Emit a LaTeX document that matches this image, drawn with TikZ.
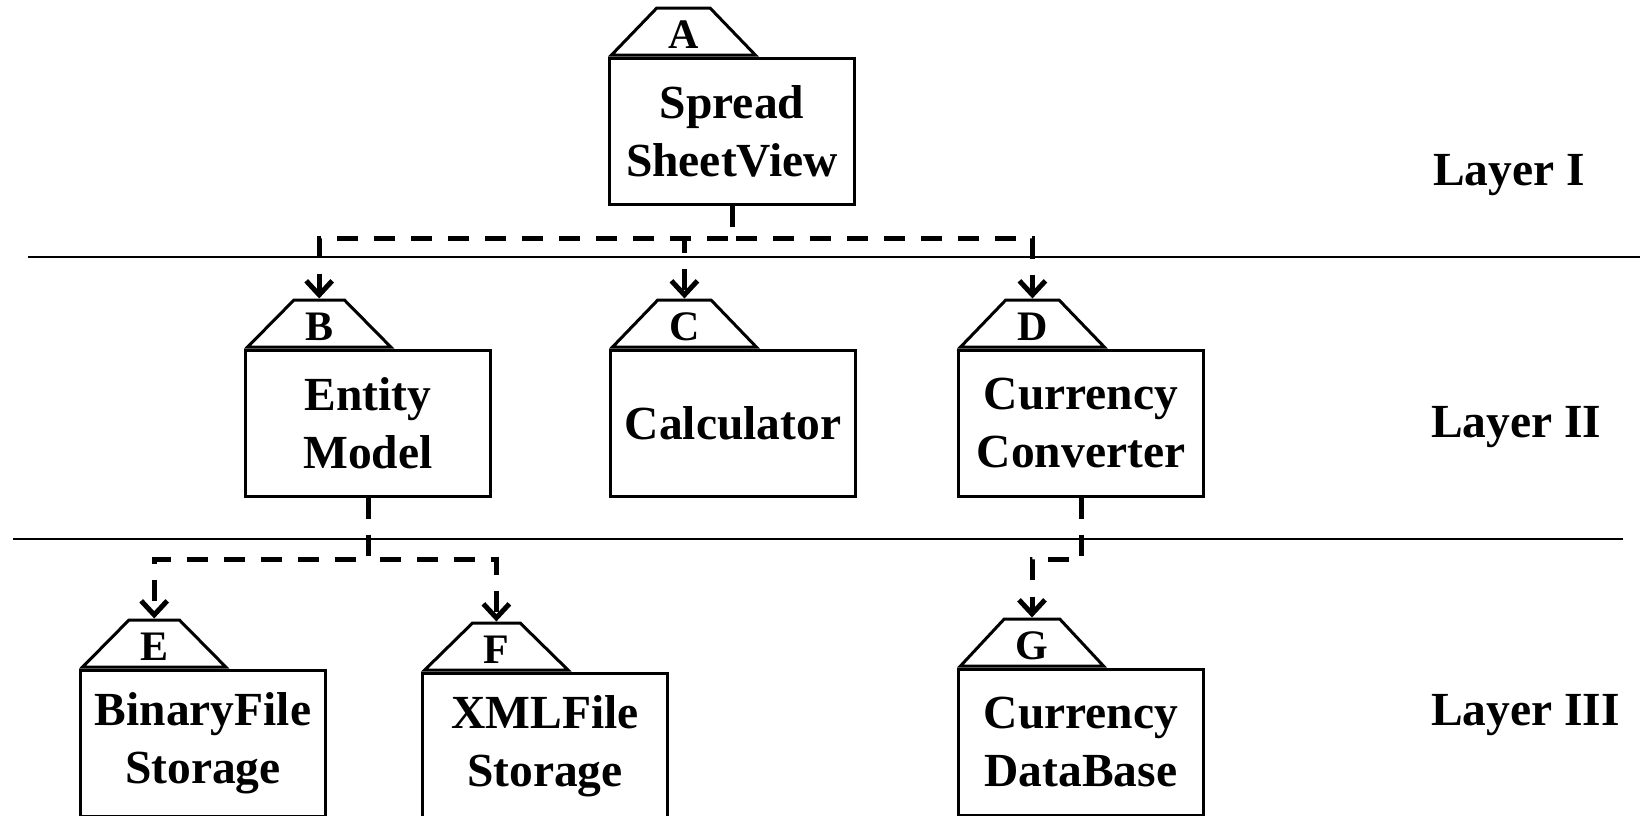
\documentclass[tikz,border=0pt]{standalone}
\usepackage{fontspec}
\setmainfont{Liberation Serif}
\usetikzlibrary{shapes.geometric,arrows.meta}

\begin{document}
\begin{tikzpicture}[x=1pt,y=-1pt,
  box/.style={draw, line width=3pt, minimum width=245pt, minimum height=146pt, inner sep=0pt, align=center, font=\fontsize{47.5}{58}\selectfont\bfseries},
  tab/.style={draw, line width=3pt, trapezium, trapezium stretches=true, trapezium left angle=52, trapezium right angle=52, minimum width=144pt, minimum height=47pt, inner sep=0pt, text height=33pt, text depth=0pt, anchor=bottom left corner, font=\fontsize{42}{42}\selectfont\bfseries},
  dep/.style={line width=5pt, dash pattern=on 21pt off 16pt, -{Straight Barb[length=14pt,width=26pt]}},
  layer/.style={line width=2.5pt},
  layername/.style={anchor=base west, inner sep=0pt, font=\fontsize{47.5}{58}\selectfont\bfseries}]
\useasboundingbox (0,0) rectangle (1640,815);
\clip (0,0) rectangle (1640,815);
\node[box] (a) at (732,131) {Spread\\SheetView};
\node[box] (b) at (368,423) {Entity\\Model};
\node[box] (c) at (733,423) {Calculator};
\node[box] (d) at (1081,423) {Currency\\Converter};
\node[box] (e) at (203,743) {BinaryFile\\Storage};
\node[box] (f) at (545,746) {XMLFile\\Storage};
\node[box] (g) at (1081,742) {Currency\\DataBase};
\foreach \x/\l in {a/A, b/B, c/C, d/D, e/E, f/F, g/G}
  \node[tab] (\x t) at (\x.north west) {\l};
\foreach \y in {b, c, d} \draw[dep] (a.south) -- ++(0,33) -| (\y t.north);
\foreach \y in {e, f} \draw[dep] (b.south) -- ++(0,62) -| (\y t.north);
\draw[dep] (d.south) -- ++(0,62) -| (gt.north);
\draw[layer] (28,257) -- (1640,257);
\draw[layer] (13,539) -- (1623,539);
\node[layername] (l1) at (1433,185) {Layer I};
\node[layername] (l2) at (1431,437) {Layer II};
\node[layername] (l3) at (1431,725) {Layer III};
\end{tikzpicture}
\end{document}
